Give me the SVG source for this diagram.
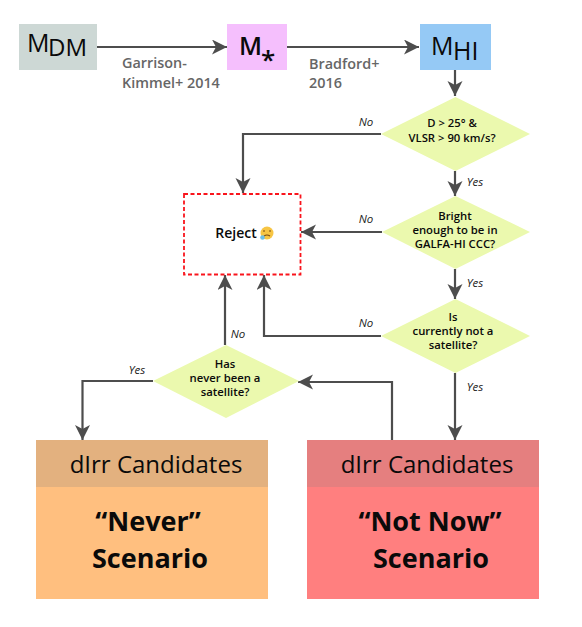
<svg xmlns="http://www.w3.org/2000/svg" width="582" height="627" viewBox="0 0 582 627">
<style>
text{font-family:"Open Sans","Noto Sans","Liberation Sans",sans-serif;text-anchor:middle;fill:#0a0a0a}
.c{fill:none;stroke:#4d4d4d;stroke-width:2.2;marker-end:url(#a)}
.d{fill:#ebf9ae}
.q{font-size:11.3px;font-weight:600}
.l{font-size:11.5px;font-style:italic;fill:#222}
.r{font-size:14.400px;font-weight:600;fill:#666;text-anchor:start}
.m{font-size:25px;font-weight:500;text-anchor:start}
.h{font-size:24px}
.b{font-size:27px;font-weight:700}
</style>
<defs>
<marker id="a" markerUnits="userSpaceOnUse" markerWidth="16" markerHeight="16" refX="15" refY="7.500" orient="auto"><path d="M0 0L15 7.500L0 15L4 7.500Z" fill="#4d4d4d"/></marker>
</defs>
<g id="connectors">
<path class="c" d="M97 47H227"/>
<path class="c" d="M287 47H419"/>
<path class="c" d="M455 70V96"/>
<path class="c" d="M381 134H243V193"/>
<path class="c" d="M455 171V196"/>
<path class="c" d="M382 232H301"/>
<path class="c" d="M455 269V299"/>
<path class="c" d="M381 336H264V275"/>
<path class="c" d="M455 373V440"/>
<path class="c" d="M225 345V275"/>
<path class="c" d="M153 381H82.500V440"/>
<path class="c" d="M392 440V382H298"/>
</g>
<g id="mdm"><rect x="19" y="24" width="78" height="46" fill="#cdd8d5"/><text x="27" y="52" class="m">M</text><text x="48" y="56" class="m" style="font-size:24px">DM</text></g>
<g id="mstar"><rect x="227" y="24" width="60" height="46" fill="#f5bffd"/><text x="239" y="55" class="m" style="font-weight:600">M</text><text x="268" y="69" style="font-size:26px;font-weight:600">*</text></g>
<g id="mhi"><rect x="420" y="24" width="71" height="46" fill="#95c9f5"/><text x="431" y="55" class="m">M</text><text x="453" y="60" class="m">HI</text></g>
<g id="cite1"><text class="r" x="122" y="68">Garrison-</text><text class="r" x="122" y="88">Kimmel+ 2014</text></g>
<g id="cite2"><text class="r" x="309" y="69">Bradford+</text><text class="r" x="309" y="88">2016</text></g>
<g id="d1"><polygon class="d" points="381,134 455.500,97 530,134 455.500,171"/><text class="q" x="452" y="127">D &gt; 25° &amp;</text><text class="q" x="452" y="142">VLSR &gt; 90 km/s?</text></g>
<g id="d2"><polygon class="d" points="382,232 455.500,196 530,232 455.500,269"/><text class="q" x="455" y="220">Bright</text><text class="q" x="455" y="234">enough to be in</text><text class="q" x="455" y="248">GALFA-HI CCC?</text></g>
<g id="d3"><polygon class="d" points="381,336 455.500,299 530,336 455.500,373"/><text class="q" x="453" y="321">Is</text><text class="q" x="453" y="335">currently not a</text><text class="q" x="453" y="349">satellite?</text></g>
<g id="d4"><polygon class="d" points="153,381 226,345 299,381 226,418"/><text class="q" x="225" y="368">Has</text><text class="q" x="225" y="382">never been a</text><text class="q" x="225" y="396">satellite?</text></g>
<g id="reject"><rect x="184" y="194" width="116.500" height="80.500" fill="#fff" stroke="#f9141c" stroke-width="1.800" stroke-dasharray="4 2.500"/><text x="236" y="238" style="font-size:14px;font-weight:600">Reject</text><circle cx="267" cy="233" r="6.500" fill="#f7c544"/><path d="M263 231h2M269 231h2M264 236q3-2 6 0" stroke="#7a4a10" stroke-width="1.200" fill="none"/><circle cx="262.500" cy="237.500" r="2.300" fill="#6cc0ea"/></g>
<g id="labels"><text class="l" x="366" y="126">No</text><text class="l" x="366" y="223">No</text><text class="l" x="366" y="327">No</text><text class="l" x="238" y="338">No</text><text class="l" x="475" y="186">Yes</text><text class="l" x="475" y="287">Yes</text><text class="l" x="475" y="391">Yes</text><text class="l" x="137" y="374">Yes</text></g>
<g id="never"><rect x="36" y="440" width="232" height="47" fill="#e3b17f"/><rect x="36" y="487" width="232" height="112" fill="#ffbf7f"/><text class="h" x="156" y="473">dIrr Candidates</text><text class="b" x="148" y="531">“Never”</text><text class="b" x="150" y="568">Scenario</text></g>
<g id="notnow"><rect x="307" y="440" width="232" height="47" fill="#e57f7f"/><rect x="307" y="487" width="232" height="112" fill="#ff7f7f"/><text class="h" x="427" y="473">dIrr Candidates</text><text class="b" x="430" y="531">“Not Now”</text><text class="b" x="431" y="568">Scenario</text></g>
</svg>
